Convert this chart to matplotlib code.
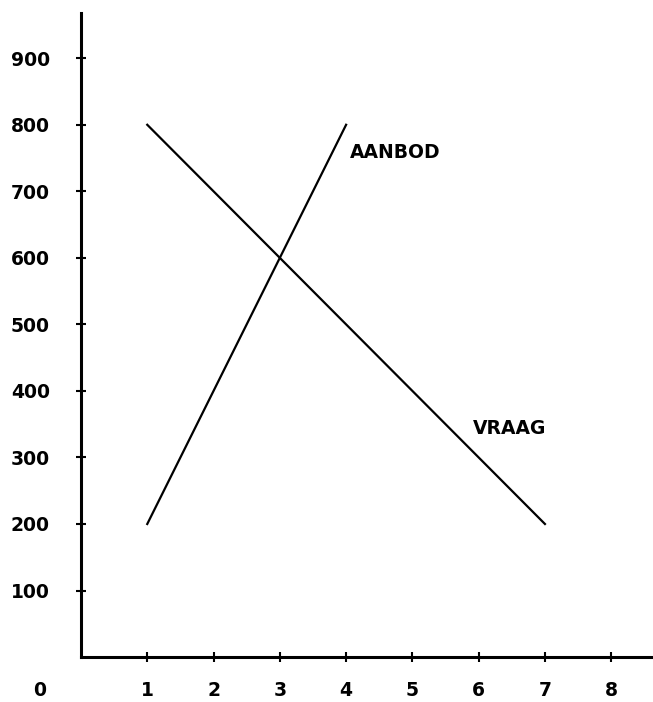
import matplotlib.pyplot as plt
import numpy as np

# data
vraag_x = [1, 7]
vraag_y = [800, 200]
aanbod_x = [1, 4]
aanbod_y = [200, 800]
xticks = [1, 2, 3, 4, 5, 6, 7, 8]
yticks = [100, 200, 300, 400, 500, 600, 700, 800, 900]

plt.rcParams['font.family'] = ['DejaVu Sans']
plt.rcParams['font.weight'] = 'bold'

fig = plt.figure(figsize=(6.53, 7.02), dpi=100)
ax = fig.add_axes([0.124, 0.064, 0.876, 0.9175])

ax.plot(vraag_x, vraag_y, color='black', lw=1.6)
ax.plot(aanbod_x, aanbod_y, color='black', lw=1.6)

ax.text(4.06, 759, 'AANBOD', fontsize=13.5, fontweight='bold', va='center', ha='left')
ax.text(5.91, 344, 'VRAAG', fontsize=13.5, fontweight='bold', va='center', ha='left')

ax.set_xlim(0, 8.63)
ax.set_ylim(0, 968)
ax.set_xticks(xticks)
ax.set_yticks(yticks)
ax.set_xticklabels([str(v) for v in xticks], fontsize=13.5, fontweight='bold')
ax.set_yticklabels([str(v) for v in yticks], fontsize=13.5, fontweight='bold')
ax.tick_params(axis='x', direction='inout', length=7, width=1.5, pad=14)
ax.tick_params(axis='y', direction='inout', length=7, width=1.5, pad=19)

# the lone zero in the corner
ax.text(-0.62, -50, '0', fontsize=13.5, fontweight='bold', ha='center', va='center', clip_on=False)

for s in ['top', 'right']:
    ax.spines[s].set_visible(False)
for s in ['left', 'bottom']:
    ax.spines[s].set_linewidth(2.2)

fig.savefig('out.png', dpi=100)
